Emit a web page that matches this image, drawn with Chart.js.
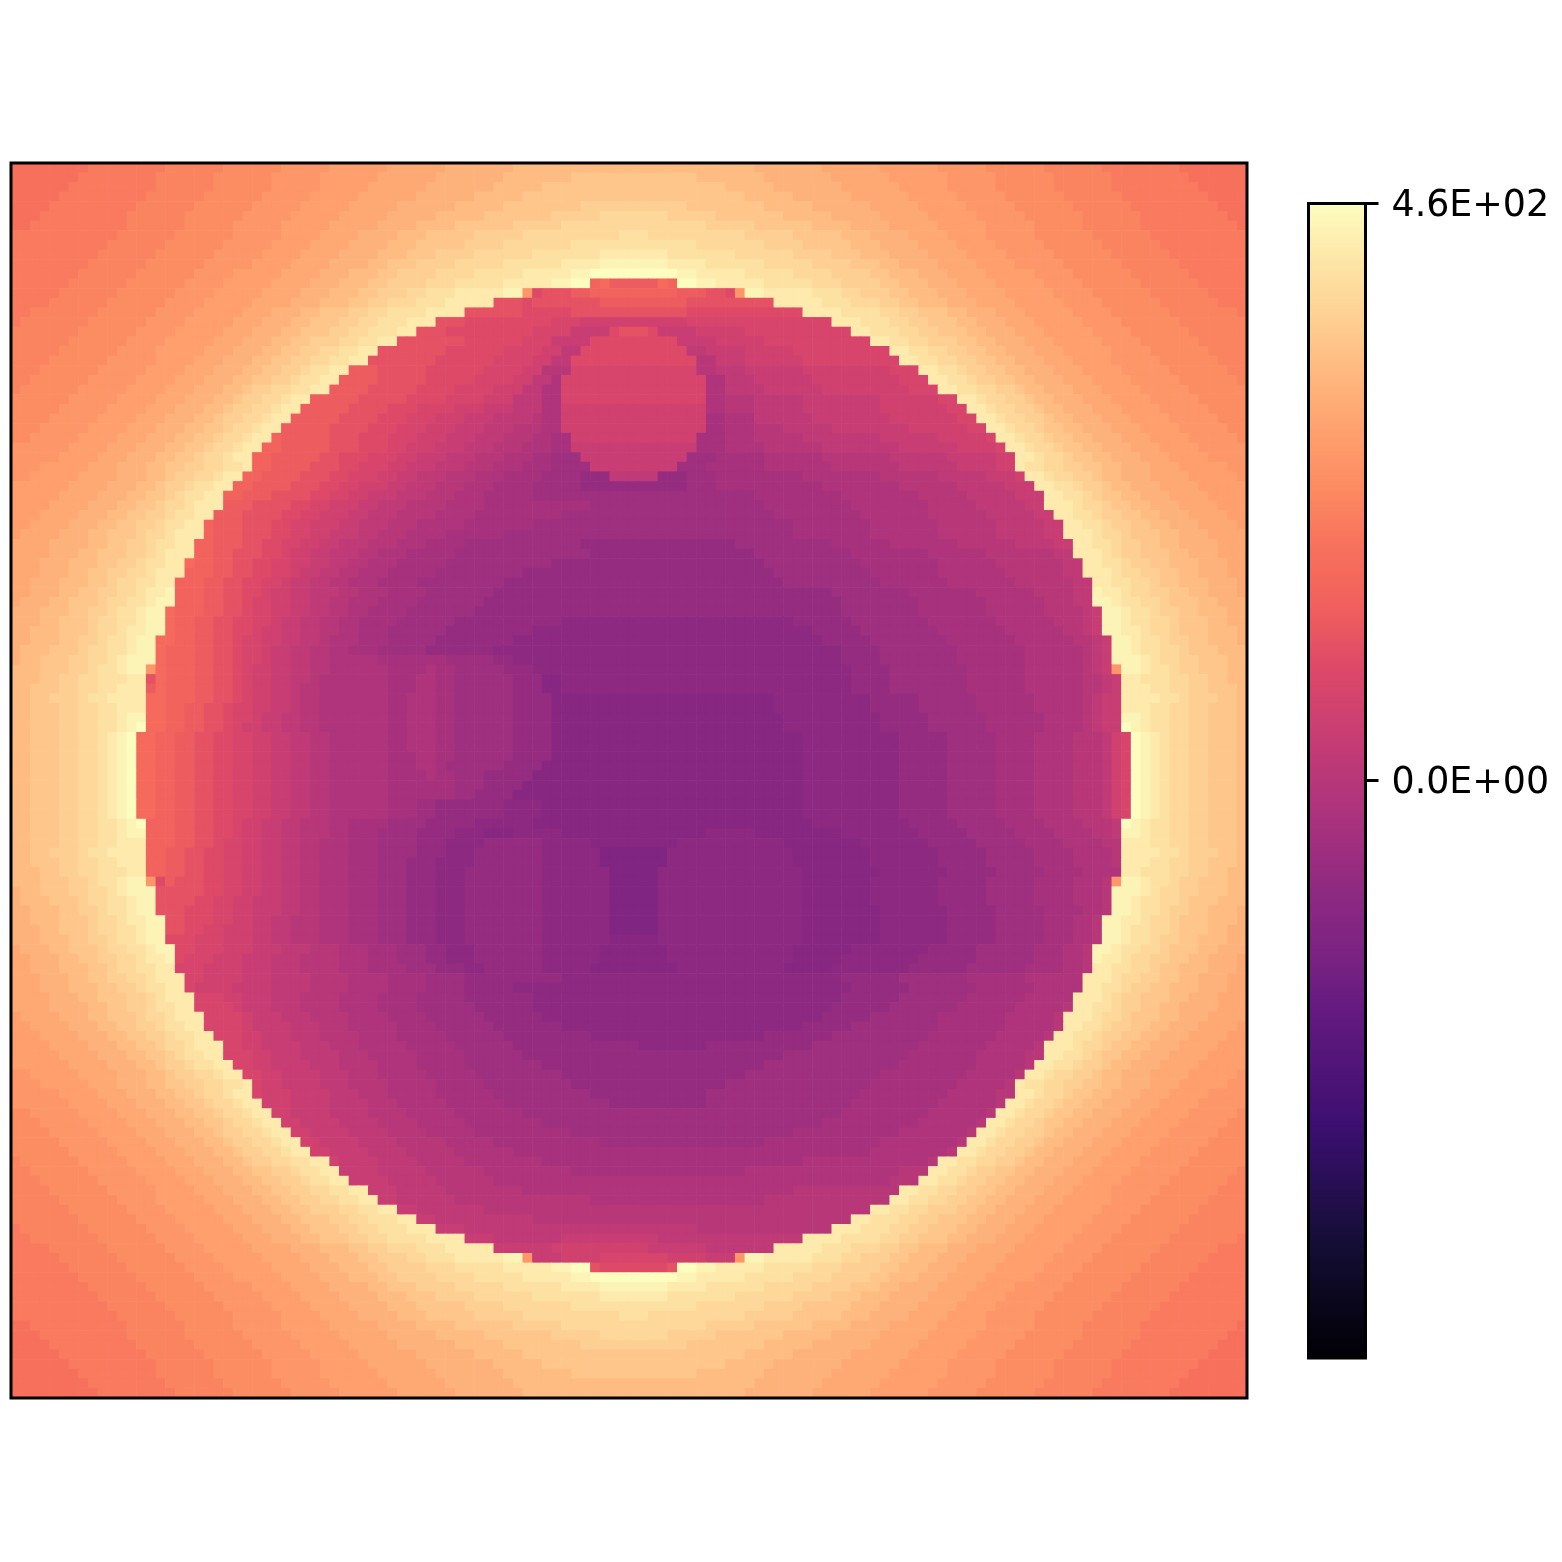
<!DOCTYPE html>
<html>
<head>
<meta charset="utf-8">
<title>Heat map</title>
<script src="https://cdn.jsdelivr.net/npm/chart.js@4/dist/chart.umd.min.js"></script>
<style>
  html, body { margin: 0; padding: 0; background: #ffffff; }
  body { position: relative; width: 1562px; height: 1562px; overflow: hidden; }
  canvas { position: absolute; }
  #heatChart { left: 0; top: 0; }
  #barChart { left: 1290px; top: 150px; }
</style>
</head>
<body>
<canvas id="heatChart" width="1250" height="1402"></canvas>
<canvas id="barChart" width="272" height="1260"></canvas>
<script>
const colorbarTicks = [460, 0];
const colorbarLabels = ["4.6E+02", "0.0E+00"];
const valueMin = -460;
const valueMax = 460;

// one letter per value step, rows below are run lengths of these letters
const levelLetters = "abcdefghijklmnopqrstuvwxyzABCDEFG";
const levelValues = [-121, -105, -89, -74, -55, -37, -18, 0, 18, 37, 55, 74, 92, 110, 129, 147, 166, 184, 202, 221, 239, 258, 276, 294, 313, 331, 350, 368, 386, 405, 423, 442, 460];

const heatRows = [
  "r8s8t6u6v5w6x6y7z25y7x6w6v5u6t6s8r7",
  "r7s8t6u6v5w6x6y7z7A13z7y7x6w6v5u6t6s8r6",
  "r6s9t6u6v5w5x6y7z5A19z5y7x6w5v5u6t6s9r5",
  "r5s9t6u6v5w5x6y6z5A23z5y6x6w5v5u6t6s9r4",
  "r4s9t6u6v5w5x5y6z5A8B11A8z5y6x5w5v5u6t6s9r3",
  "r3s9t6u6v5w5x5y5z5A7B5C7B5A7z5y5x5w5v5u6t6s9r2",
  "r2s10t6u5v5w5x5y4z4A6B5C15B5A6z4y4x5w5v5u5t6s10r1",
  "s11t6u6v5w4x4y4z3A5B5C10D3C10B5A5z3y4x4w4v5u6t6s10",
  "s10t6u6v5w4x4y4z3A5B4C7D13C7B4A5z3y4x4w4v5u6t6s9",
  "s9t6u6v5w4x4y4z3A3B4C6D7E7D7C6B4A3z3y4x4w4v5u6t6s8",
  "s8t6u6v5w4x4y4z2A3B4C5D6E4F7E4D6C5B4A3z2y4x4w4v5u6t6s7",
  "s7t6u6v4w5x4y3z3A2B4C4D5E5F2G9F2E5D5C4B4A2z3y3x4w5v4u6t6s6",
  "s6t6u6v4w5x4y3z3A2B4C3D5E5F2G2p1q1o5q1p1G2F2E5D5C3B4A2z3y3x4w5v4u6t6s5",
  "s5t6u6v4w5x4y3z3A2B3C2D3E5F2v1m1n3o2p9o3n2m1v1F2E5D3C2B3A2z3y3x4w5v4u6t6s4",
  "s4t6u6v4w5x4y3z3A2B2C3D3E5n3m1n7o9n9E5D3C3B2A2z3y3x4w5v4u6t6s3",
  "s2t7u6v4w5x3y3z2A3B2C2D4E4n6m5n12m12E4D4C2B2A3z2y3x3w5v4u6t7s1",
  "s1t7u6v4w5x3y3z2A3B2C2D3E3n3m9l3k11l15E3D3C2B2A3z2y3x3w5v4u6t7",
  "t7u6v4w5x3y3z2A3B2C2D3E2n3m9l4j4m1n3m1j4k5l11E2D3C2B2A3z2y3x3w5v4u6t6",
  "t6u6v4w5x3y3z2A2B3C2D2E2n7m6l3j4m9j4k5l11E2D2C2B3A2z2y3x3w5v4u6t5",
  "t5u6v4w5x3y3z2A2B2C2D2E2n7m6l4k2i2m11i2j4k5l10E2D2C2B2A2z2y3x3w5v4u6t4",
  "t4u6v5w4x3y3z2A2B2C2D2E2n7m6l4k2i2m13h2j3k6l10E2D2C2B2A2z2y3x3w4v5u6t3",
  "t3u6v5w4x3y3z2A2B2C1D2E2o3n5m6l4k2h3l13h2i3j6k9l3E2D2C1B2A2z2y3x3w4v5u6t2",
  "t2u6v5w4x3y3z2A2B2C1D2E2o4n5m5l4k2i2g1l15g2i3j6k9l3E2D2C1B2A2z2y3x3w4v5u6t1",
  "t1u6v5w4x3y3z2A1B2C2D2E2o4n5m4l4k3i2g2l15g2i4j6k9l3E2D2C2B2A1z2y3x3w4v5u6",
  "u6v5w4x3y3z2A1B2C2D1E2o5n5m4l4k3i3g2l15g2h3i5j8k6l2E2D1C2B2A1z2y3x3w4v5u5",
  "u5v5w4x3y3z2A1B2C2D1E2o5n4m3l4k3j3i3g2k15g2h3i5j8k7l2E2D1C2B2A1z2y3x3w4v5u4",
  "u4v5w4x3y3z2A1B2C2D1E2o5n4m3l3k3j3i4h1g2k15f2g3i6j8k7l2E2D1C2B2A1z2y3x3w4v5u3",
  "u3v5w4x3y3z2A2B1C2D1E2o5n4m3l3k3j3i3h3g2k15f2g3h3i5j8k6l2E2D1C2B1A2z2y3x3w4v5u2",
  "u2v5w4x3y3z2A2B1C2D1E2p1o5n3m3l3k3j3i3h3g2f2k13f3g3h5i8j6k5l1E2D1C2B1A2z2y3x3w4v5u1",
  "v6w4x3y3z2A2B1C2D1E2p2o5n3m3l2k3j3i3h3g3f2j13f3g4h6i8j6k4l1E2D1C2B1A2z2y3x3w4v5",
  "v5w4x3y3z2A2B1C2D1E2p2o5n2m3l3k2j3i3h3g3f2e3j11e3f5g6h7i6j5k2E2D1C2B1A2z2y3x3w4v4",
  "v3w5x3y3z2A2B2C2D2E1p2o4n3m2l3k2j3i3h3g3f3e4j9e3f6g7h7i6j4k2E1D2C2B2A2z2y3x3w5v2",
  "v2w5x4y3z2A1B2C2D1E2p2o4n3m2l3k2j2i3h3g3f4e4d3i5d3e3f9g8h6i5j3k1E2D1C2B2A1z2y3x4w5v1",
  "w6x4y3z2A1B2C1D2E2p2o4n3m2l2k3j2i3h3g3f4e5d11e3f11g8h6i5j3E2D2C1B2A1z2y3x4w5",
  "w5x4y3z2A2B1C1D2E2p2o3n4m2l2k2j3i3h3g3f5e23f9g8h5i5j3E2D2C1B1A2z2y3x4w4",
  "w4x4y3z2A2B1C2D1E3o3n4m2l2k3j2i3h4g4f11e18f9g8h5i5j2E3D1C2B1A2z2y3x4w3",
  "w3x4y3z2A2B2C1D2E2o3n4m2l2k3j2i3h4g4f9e22f9g7h6i5j2E2D2C1B2A2z2y3x4w2",
  "w2x4y3z2A2B2C1D2E2p1o3n3m2l2k3j2i3h3g5f7e27f8g7h6i5j2E2D2C1B2A2z2y3x4w1",
  "w1x4y3z2A3B1C2D1E3p1o3n3m2l2k2j3i2h3g4f6e30f8g7h6i5j2E3D1C2B1A3z2y3x4",
  "x4y4z2A2B2C1D2E2p2o3n2m2l2k2j2i3h3g3f4e12d16e10f6g7h6i4j2E2D2C1B2A2z2y4x3",
  "x4y3z2A3B2C1D1E3p2o2n3m2l1k2j2i3h2g3f5e14d17e10f8g6h7i2E3D1C1B2A3z2y3x3",
  "x3y3z3A2B2C1D2E2q1p2o2n2m2l2k2j2i2h2g3f5e11d22e10f8g6h7i2E2D2C1B2A2z3y3x2",
  "x3y3z2A2B2C2D1E3p3o2n2m2l2k1j2i2h2g3f5e9d26e10f7g7h6i2E3D1C2B2A2z2y3x2",
  "x2y3z3A2B1C2D2E2p3o2n2m2l2k1j2i2h2g3f4e9d29e10f7g7h6i2E2D2C2B1A2z3y3x1",
  "x2y3z2A2B2C2D1E2F1p3o2n2m2l1k2j2i3h2g3f4e7d35e8f7g6h4i2F1E2D1C2B2A2z2y3x1",
  "x1y3z2A3B1C2D2E1F2p3o2n2m1l2k2j2i2h2g3f4e7d37e8f7g6h3i2F2E1D2C2B1A3z2y3",
  "y3z3A2B2C1D2E1F2q1p3o2n2m1l2k2j2i2h2g2f4e7d38e8f7g6h4i1j1F2E1D2C1B2A2z3y2",
  "y3z2A3B1C2D2E1F2q1p2o2n2m2l2k1j2i2h2g2f4e6d11c24d6e8f7g6h3i1j1F2E1D2C2B1A3z2y2",
  "y2z3A3B1C2D1E2F2q1p2o2n2m2l1k2j2i2h2g2f3e6d9c29d5e8f7g6h2i1j1F2E2D1C2B1A3z3y1",
  "y2z3A2B2C1D2E1F2q2p2o2n2m1l2k2j2i2h1g3f3e5d8c32d5e8f7g6h2i1j1F2E1D2C1B2A2z3y1",
  "y1z3A3B1C2D2E1F2q1p3o2n2m1l2k1j2i2h2g2f3e5d7c36d4e8f7g6h1i1j1F2E1D2C2B1A3z3",
  "y1z2A3B2C2D1E1F3q1p3o2n2m1l2k1j2i2h2g5f7e5d2c34d4e8f7g6h1i1j1F3E1D1C2B2A3z2",
  "z3A3B2C1D2E1F2v1q1p3o2n2m1l1k2j2i2h2g6f4g1f2e5d3c33d4e8f6g6h1i1j1v1F2E1D2C1B2A3z2",
  "z3A2B2C2D3E2n1q1p3o2n2m1l1k2j2i2h1g7f3g2f2e6d3b2c30d4e8f6g6h2i1j1E2D3C2B2A2z2",
  "z2A3B2C2D2E3o1q1p3o2n2m1l1k2j2i1h2g7f3g2f2e6d3b2c30d4e8f6g6h2i1j1E3D2C2B2A3z1",
  "z2A2B3C1D2E4q2p3o2n2m1l1k2j2i1h2g7f2g3f2e6d4b23c10d5e6f6g5h1i1j2E4D2C1B3A2z1",
  "z2A3B2C2D2E3q2p2o2n2m1l2k2j2i1h2g7f2g3f2e6d4b23c10d5e6f6g5h1i1j2E3D2C2B2A3z1",
  "z2A3B2C2D2E1F2q2p2o2n2m1l2k1j2i2h2g7f2g3f2e6d4b24c10d5e6f6g4h1i1j2F2E1D2C2B2A3z1",
  "z2A3B2C2D2E1F1G1q2p2o2n2m1l1k2j2i2h2g7f2g3f2e6d4b24c10d5e6f6g4h1i1j2G1F1E1D2C2B2A3z1",
  "z2A3B2C2D1E1F1G1q2p2o2n2m2l2k2j2i2h2g6f2g3f2e6d4b26c10d5e5f4g4h3i1k1l1G1F1E1D1C2B2A3z1",
  "z2A3B2C2D1E1F1G1q2p2o2n2m2l2k2j2i2h2g6f2g3f2e6d4b26c10d5e5f4g4h3i1k1l1G1F1E1D1C2B2A3z1",
  "z2A3B2C2D1E1F1G1q2p2o2n2m2l2k2j2i2h2g6f3g2f2e6d4b26c10d5e5f4g4h3i1k1l1G1F1E1D1C2B2A3z1",
  "z2A3B2C2D1E1F1G1q2p2o2n2m2l2k2j2i2h2g6f3g2f1e6d4b27c10d5e5f4g4h3i1k1l1G1F1E1D1C2B2A3z1",
  "z2A3B2C2D1E1F1G1q2p2o2n2m2l2k2j2i2h2g6f4g1f2e3d5b28c10d5e5f4g4h3i1k1l1G1F1E1D1C2B2A3z1",
  "z2A3B2C2D1E1F1G1q2p2o2n2m2l2k2j2i2h2g6f5f2e3d4b29c10d5e5f4g4h3i1k1l1G1F1E1D1C2B2A3z1",
  "z2A3B2C2D1E1F1G1q2p2o2n2m2l2k2j2i2h2g6f6f1e2d4b30c10d5e5f4g4h3i1k1l1G1F1E1D1C2B2A3z1",
  "z2A3B2C2D1E1F1G1q2p2o2n2m2l2k2j2i2h2g6f3e2d7c4b27c10d5e5f4g4h3i1k1l1G1F1E1D1C2B2A3z1",
  "z2A3B2C2D1E1F1G1q2p2o2n2m2l2k2j2i2h2g6f3e2d7c4b27c10d5e5f4g4h3i1k1l1G1F1E1D1C2B2A3z1",
  "z2A3B2C2D2E1F1G1p3o2n2m2l1k2j2i2h3g2f4e4d5c6b29c10d5e5f4g4h3i1G1F1E1D2C2B2A3z1",
  "z2A3B2C2D2E1F2p3o2n2m2l1k2j2i2h3g2f3e4d4c3b3c5b15c5b9c8d5e5f4g4h2i1F2E1D2C2B2A3z1",
  "z2A3B2C2D2E3p3o2n2m1l2k2j2i2h2g3f3e4d3c4d6c5b9c11b8c7d5e5f4g4h2E3D2C2B2A3z1",
  "z2A2B3C1D2E4p2o2n2m2l2k2j2i2h2g3f3e4d3c3d7c6a7c13b8c7d5e5f4g4h1E4D2C1B3A2z1",
  "z2A3B2C2D2E3p2o2n2m2l2k2j2i2h2g3f3e3d3c4d7c6a7c13b8c7d5e5f4g4h1E3D2C2B2A3z1",
  "z3A2B2C2D3E2p2o2n2m2l2k2j2i2h2g3f3e3d3c3d8c7a5c15b8c7d5e5f4g4E2D3C2B2A2z2",
  "z3A3B2C1D2E1F2v1m1o1n3m2l2k2j2i2h2g3f3e3d3c3d8c7a5c15b7c7d5e5f4g3h1v1F2E1D2C1B2A3z2",
  "y1z2A3B2C2D1E1F3n5m2l2k2j2i2h2g3f3e3d3c3d8c7a5c15b7c7d5e5f4g3h1F3E1D1C2B2A3z2",
  "y1z3A3B1C2D2E1F2n4m2l2k2j3i2h2g3f3e3d3c3d8c7a5c15b7c7d5e5f4g3h1F2E1D2C2B1A3z3",
  "y2z3A2B2C1D2E1F2n3m3l2k2j3i2h2g3f3e3d3c3d8c7a5c15b8c7d5e5f4g2h1F2E1D2C1B2A2z3y1",
  "y2z3A3B1C2D1E2F2n2m3l2k2j2i2h3g3f3e3d3c3d8c7a5c15b8c7d5e5f3g2h1F2E2D1C2B1A3z3y1",
  "y3z2A3B1C2D2E1F2n2m2l2k3j2i2h3g3f3e3d3c3d8c7a5c15b8c7d5e5f3g2h1F2E1D2C2B1A3z2y2",
  "y3z3A2B2C1D2E1F2m3l3k3j2i2h3g3f3e3d3c3d8c7b5c15b8c7d5e5f3g2h1F2E1D2C1B2A2z3y2",
  "x1y3z2A3B1C2D2E1F2m2l3k3j3i3h3g3f3e3d2c3d7c6b7c13b6c8d5e6f3g2h1F2E1D2C2B1A3z2y3",
  "x2y3z2A2B2C2D1E2F1m1l3k3j3i3h4g3f3e3d2c3d7c6b7c13b5c8d6e6f3g2h1F1E2D1C2B2A2z2y3x1",
  "x2y3z3A2B1C2D2E2l3k4j3i3h4g3f4e3d3c2d6c5b9c11b5c8d6e6f4g2h1E2D2C2B1A2z3y3x1",
  "x3y3z2A2B2C2D1E3l2k4j3i4h4g4f4e4d10c29d6e7f6g6E3D1C2B2A2z2y3x2",
  "x3y3z3A2B2C1D2E2l1k4j4i4h4g4f4e4d5c35d6e7f6g5E2D2C1B2A2z3y3x2",
  "x4y3z2A3B2C1D1E3l3k2j3i3h4g4f4e5d7c32d6e7f6g5E3D1C1B2A3z2y3x3",
  "x4y4z2A2B2C1D2E2l4k1j3i3h4g4f4e6d6c31d6e7f6g5h1E2D2C1B2A2z2y4x3",
  "w1x4y3z2A3B1C2D1E3l4k1j3i3h4g4f4e6d6c29d5e7f7g5h1E3D1C2B1A3z2y3x4",
  "w2x4y3z2A2B2C1D2E2l4k1j4i3h3g5f4e6d7c25d5e9f7g5h1E2D2C1B2A2z2y3x4w1",
  "w3x4y3z2A2B2C1D2E2l3k2j3i3h4g4f5e6d9c18d7e10f7g5h1E2D2C1B2A2z2y3x4w2",
  "w4x4y3z2A2B1C2D1E3l2k2j4i3h3g5f5e6d13c7d11e11f7g5h1E3D1C2B1A2z2y3x4w3",
  "w5x4y3z2A2B1C1D2E2l3k2j3i4h3g5f5e6d27e13f7g5h2E2D2C1B1A2z2y3x4w4",
  "w6x4y3z2A1B2C1D2E2l2k2j4i3h4g4f5e8d23e14f8g5h1E2D2C1B2A1z2y3x4w5",
  "v2w5x4y3z2A1B2C2D1E2l2k2j4i3h3g5f5e9d19e14f9g5h1E2D1C2B2A1z2y3x4w5v1",
  "v3w5x3y3z2A2B2C2D2E1l1k2j4i3h4g5f5e9d16e15f9g5h1E1D2C2B2A2z2y3x3w5v2",
  "v5w4x3y3z2A2B1C2D1E2l1k3j4i3h3g5f6e10d12e16f9g5h2E2D1C2B1A2z2y3x3w4v4",
  "v6w4x3y3z2A2B1C2D1E2k3j4i4h3g5f6e11d10e15f9g6h1E2D1C2B1A2z2y3x3w4v5",
  "u2v5w4x3y3z2A2B1C2D1E2k2j4i4h4g5f7e33f9g6h1E2D1C2B1A2z2y3x3w4v5u1",
  "u3v5w4x3y3z2A2B1C2D1E2k2j4i4h4g5f8e29f10g6h1E2D1C2B1A2z2y3x3w4v5u2",
  "u4v5w4x3y3z2A1B2C2D1E2k2j4i4h4g5f10e23f11g7h1E2D1C2B2A1z2y3x3w4v5u3",
  "u5v5w4x3y3z2A1B2C2D1E2k2j4i4h5g5f11e17f12g8h1E2D1C2B2A1z2y3x3w4v5u4",
  "u6v5w4x3y3z2A1B2C2D1E2k2j4i4h5g6f37g8h1E2D1C2B2A1z2y3x3w4v5u5",
  "t1u6v5w4x3y3z2A1B2C2D2E2k1j4i4h5g8f27g13h1E2D2C2B2A1z2y3x3w4v5u6",
  "t2u6v5w4x3y3z2A2B2C1D2E2j4i5h6g9f18g16h3E2D2C1B2A2z2y3x3w4v5u6t1",
  "t3u6v5w4x3y3z2A2B2C1D2E2j4i5h6g41h3E2D2C1B2A2z2y3x3w4v5u6t2",
  "t4u6v5w4x3y3z2A2B2C2D2E2j3i5h8g28h11E2D2C2B2A2z2y3x3w4v5u6t3",
  "t5u6v4w5x3y3z2A2B2C2D2E2j2i6h14g18h13E2D2C2B2A2z2y3x3w5v4u6t4",
  "t6u6v4w5x3y3z2A2B3C2D2E2j2i7h40E2D2C2B3A2z2y3x3w5v4u6t5",
  "t7u6v4w5x3y3z2A3B2C2D3E2j2i10h33E2D3C2B2A3z2y3x3w5v4u6t6",
  "s1t7u6v4w5x3y3z2A3B2C2D3E3j3i24h14E3D3C2B2A3z2y3x3w5v4u6t7",
  "s2t7u6v4w5x3y3z2A3B2C2D4E4j3i7j10i15E4D4C2B2A3z2y3x3w5v4u6t7s1",
  "s4t6u6v4w5x4y3z3A2B2C3D3E5j6k10j6i7E5D3C3B2A2z3y3x4w5v4u6t6s3",
  "s5t6u6v4w5x4y3z3A2B3C2D3E5F2v1j3k4l7k4j3v1F2E5D3C2B3A2z3y3x4w5v4u6t6s4",
  "s6t6u6v4w5x4y3z3A2B4C3D5E5F2G2n1m7n1G2F2E5D5C3B4A2z3y3x4w5v4u6t6s5",
  "s7t6u6v4w5x4y3z3A2B4C4D5E5F2G9F2E5D5C4B4A2z3y3x4w5v4u6t6s6",
  "s8t6u6v5w4x4y4z2A3B4C5D6E4F7E4D6C5B4A3z2y4x4w4v5u6t6s7",
  "s9t6u6v5w4x4y4z3A3B4C6D7E7D7C6B4A3z3y4x4w4v5u6t6s8",
  "s10t6u6v5w4x4y4z3A5B4C7D13C7B4A5z3y4x4w4v5u6t6s9",
  "s11t6u6v5w4x4y4z3A5B5C10D3C10B5A5z3y4x4w4v5u6t6s10",
  "r2s10t6u5v5w5x5y4z4A6B5C15B5A6z4y4x5w5v5u5t6s10r1",
  "r3s9t6u6v5w5x5y5z5A7B5C7B5A7z5y5x5w5v5u6t6s9r2",
  "r4s9t6u6v5w5x5y6z5A8B11A8z5y6x5w5v5u6t6s9r3",
  "r5s9t6u6v5w5x6y6z5A23z5y6x6w5v5u6t6s9r4",
  "r6s9t6u6v5w5x6y7z5A19z5y7x6w5v5u6t6s9r5",
  "r7s8t6u6v5w6x6y7z7A13z7y7x6w6v5u6t6s8r6",
  "r8s8t6u6v5w6x6y7z25y7x6w6v5u6t6s8r7",
  "r9s8t6u6v5w6x6y7z23y7x6w6v5u6t6s8r8",
];

const magmaStops = [
  [0.0, [0, 0, 4]], [0.1, [20, 14, 54]], [0.2, [59, 15, 112]], [0.3, [100, 26, 128]],
  [0.35, [123, 35, 130]], [0.4, [140, 41, 129]], [0.45, [163, 48, 126]], [0.5, [183, 55, 121]],
  [0.55, [204, 63, 113]], [0.6, [222, 73, 104]], [0.65, [241, 96, 93]], [0.7, [247, 112, 92]],
  [0.75, [252, 137, 97]], [0.8, [254, 159, 109]], [0.85, [254, 183, 126]], [0.9, [254, 207, 146]],
  [0.95, [253, 229, 167]], [1.0, [252, 253, 191]],
];

function magmaColor(t) {
  for (let i = 1; i < magmaStops.length; i++) {
    if (t <= magmaStops[i][0]) {
      const [t0, c0] = magmaStops[i - 1];
      const [t1, c1] = magmaStops[i];
      const k = (t - t0) / (t1 - t0);
      return `rgb(${Math.round(c0[0] + (c1[0] - c0[0]) * k)}, ${Math.round(c0[1] + (c1[1] - c0[1]) * k)}, ${Math.round(c0[2] + (c1[2] - c0[2]) * k)})`;
    }
  }
  return "rgb(252, 253, 191)";
}

function valueColor(value) {
  return magmaColor((value - valueMin) / (valueMax - valueMin));
}

function decodeRow(text) {
  const values = [];
  for (const run of text.matchAll(/([a-zA-Z])(\d+)/g)) {
    const value = levelValues[levelLetters.indexOf(run[1])];
    for (let i = 0; i < Number(run[2]); i++) values.push(value);
  }
  return values;
}

function buildCells() {
  const cells = [];
  heatRows.forEach((text, row) => {
    const values = decodeRow(text);
    if (values.length !== 128) console.warn("row", row, "has", values.length);
    values.forEach((v, col) => cells.push({ x: col + 0.5, y: row + 0.5, v }));
  });
  return cells;
}

const frameBorder = {
  id: "frameBorder",
  afterDraw(chart) {
    const { ctx, chartArea } = chart;
    ctx.save();
    ctx.strokeStyle = "#000000";
    ctx.lineWidth = 3;
    ctx.strokeRect(chartArea.left, chartArea.top, chartArea.right - chartArea.left, chartArea.bottom - chartArea.top);
    ctx.restore();
  },
};

function createHeatChart() {
  const cells = buildCells();
  new Chart(document.getElementById("heatChart"), {
    type: "scatter",
    data: {
      datasets: [
        {
          data: cells,
          pointStyle: "rect",
          pointRadius: 7.25,
          pointBorderWidth: 0,
          pointBackgroundColor: cells.map((cell) => valueColor(cell.v)),
        },
      ],
    },
    options: {
      responsive: false,
      animation: false,
      events: [],
      layout: { autoPadding: false, padding: { left: 11, top: 163, right: 3, bottom: 4 } },
      plugins: { legend: { display: false }, tooltip: { enabled: false } },
      scales: {
        x: { type: "linear", min: 0, max: 128, display: false },
        y: { type: "linear", min: 0, max: 128, reverse: true, display: false },
      },
    },
    plugins: [frameBorder],
  });
}

function colorbarFill(context) {
  const { ctx, chartArea } = context.chart;
  if (!chartArea) return "#000000";
  const gradient = ctx.createLinearGradient(0, chartArea.bottom, 0, chartArea.top);
  magmaStops.forEach(([t, c]) => gradient.addColorStop(t, `rgb(${c[0]}, ${c[1]}, ${c[2]})`));
  return gradient;
}

function createColorbar() {
  new Chart(document.getElementById("barChart"), {
    type: "bar",
    data: {
      labels: [""],
      datasets: [
        {
          data: [[valueMin, valueMax]],
          backgroundColor: colorbarFill,
          barPercentage: 1,
          categoryPercentage: 1,
          borderWidth: 0,
        },
      ],
    },
    options: {
      responsive: false,
      animation: false,
      events: [],
      layout: { padding: { left: 18.5, top: 53.5, right: 0, bottom: 52 } },
      plugins: { legend: { display: false }, tooltip: { enabled: false } },
      scales: {
        x: { display: false },
        y: {
          position: "right",
          min: valueMin,
          max: valueMax,
          afterBuildTicks: (axis) => {
            axis.ticks = colorbarTicks.map((value) => ({ value }));
          },
          afterFit: (axis) => {
            axis.width = 196.5;
          },
          border: { display: false },
          grid: { drawOnChartArea: false, drawTicks: true, tickLength: 13, tickWidth: 3, tickColor: "#000000" },
          ticks: {
            autoSkip: false,
            maxRotation: 0,
            padding: 13,
            labelOffset: 3,
            color: "#000000",
            font: { family: "DejaVu Sans", size: 36.4 },
            callback: (value) => colorbarLabels[colorbarTicks.indexOf(value)],
          },
        },
      },
    },
    plugins: [frameBorder],
  });
}

createHeatChart();
createColorbar();
</script>
</body>
</html>
